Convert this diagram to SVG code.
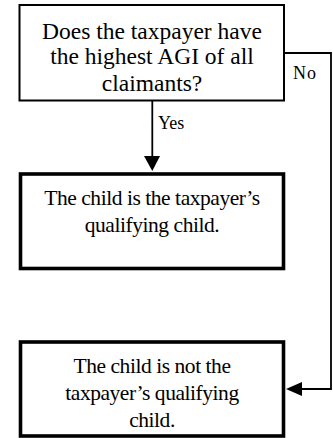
<svg xmlns="http://www.w3.org/2000/svg" width="333" height="438" viewBox="0 0 333 438">
<style>
.box{fill:#fff;stroke:#000}
.t{font-family:"Liberation Serif","Times New Roman",serif;fill:#000;text-anchor:middle}
.big{font-size:23.5px}
.mid{font-size:21.5px;letter-spacing:-0.45px}
.lbl{font-family:"Liberation Serif","Times New Roman",serif;font-size:18px;fill:#000}
.ln{fill:none;stroke:#000;stroke-width:1.8}
.head{fill:#000}
</style>
<g id="connectors">
<path class="ln" d="M152.3,101 V158"/>
<path class="head" d="M144,156 L160,156 L152.3,171 Z"/>
<path class="ln" d="M284,53 H331 V389 H300"/>
<path class="head" d="M302,382 L302,396 L286,389 Z"/>
<text class="lbl" x="293" y="79" letter-spacing="1">No</text>
<text class="lbl" x="158" y="129">Yes</text>
</g>
<g id="question">
<rect class="box" x="19.5" y="5" width="264.5" height="95.5" stroke-width="2"/>
<text class="t big" x="152" y="39">Does the taxpayer have</text>
<text class="t big" x="152" y="64">the highest AGI of all</text>
<text class="t big" x="152" y="91">claimants?</text>
</g>
<g id="yes-result">
<rect class="box" x="20.5" y="174" width="263" height="94.5" stroke-width="3.6"/>
<text class="t mid" x="152" y="205">The child is the taxpayer’s</text>
<text class="t mid" x="152" y="232">qualifying child.</text>
</g>
<g id="no-result">
<rect class="box" x="20.5" y="342" width="263" height="94" stroke-width="3.6"/>
<text class="t mid" x="152" y="373">The child is not the</text>
<text class="t mid" x="152" y="400">taxpayer’s qualifying</text>
<text class="t mid" x="152" y="427">child.</text>
</g>
</svg>
